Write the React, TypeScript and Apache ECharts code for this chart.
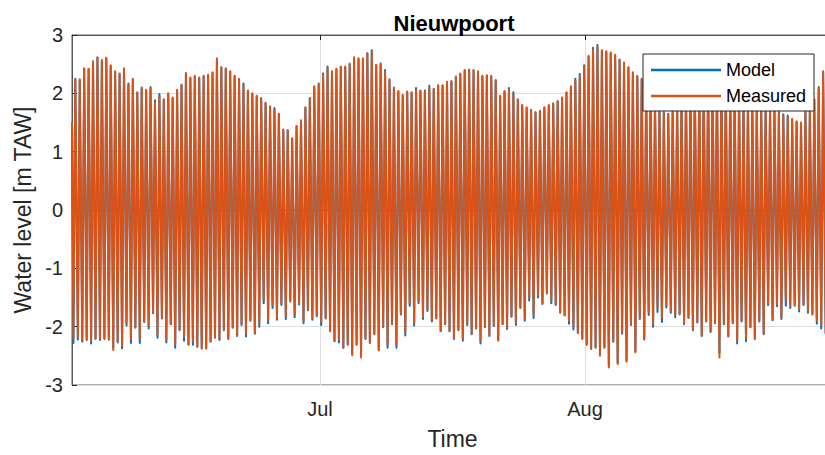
import React, { useEffect, useRef } from "react";
import * as echarts from "echarts";

const TITLE = "Nieuwpoort";
const Y_NAME = "Water level [m TAW]";
const X_NAME = "Time";
const SERIES_NAMES = ["Model", "Measured"];
const X_TICK_LABELS = ["Jul", "Aug"];
const X_TICK_DATES = [Date.UTC(2019, 6, 1), Date.UTC(2019, 7, 1)];
const X_MIN = Date.UTC(2019, 5, 2);
const X_MAX = Date.UTC(2019, 7, 30);
const FIRST_LOW = Date.UTC(2019, 5, 2, 4, 0);
const TIDE_PERIOD_MS = 12.42 * 3600 * 1000;
const RISE_MS = 5.3 * 3600 * 1000; // low water -> high water (flood is shorter than ebb)
const START_LEVEL = 1.5;

// high waters (m TAW), one per tide
const measuredHigh = [
  2.25, 2.24, 2.43, 2.42, 2.55, 2.62, 2.57, 2.61, 2.48, 2.38,
  2.34, 2.43, 2.14, 2.25, 2.02, 2.10, 2.06, 2.08, 1.84, 1.96,
  1.90, 2.00, 1.93, 2.06, 2.15, 2.35, 2.27, 2.30, 2.27, 2.30,
  2.32, 2.36, 2.60, 2.45, 2.43, 2.38, 2.30, 2.25, 2.14, 2.05,
  2.00, 1.96, 1.92, 1.84, 1.78, 1.72, 1.65, 1.38, 1.37, 1.23,
  1.44, 1.54, 1.76, 1.92, 2.12, 2.14, 2.31, 2.44, 2.38, 2.42,
  2.46, 2.46, 2.51, 2.62, 2.60, 2.60, 2.69, 2.72, 2.49, 2.49,
  2.37, 2.24, 2.10, 2.04, 1.97, 2.03, 2.02, 2.06, 2.05, 2.02,
  2.10, 2.08, 2.14, 2.14, 2.20, 2.21, 2.29, 2.34, 2.40, 2.41,
  2.40, 2.38, 2.30, 2.31, 2.30, 2.23, 1.96, 2.04, 2.06, 1.99,
  1.90, 1.80, 1.76, 1.72, 1.68, 1.70, 1.76, 1.80, 1.83, 1.87,
  1.93, 2.02, 2.12, 2.22, 2.30, 2.45, 2.62, 2.75, 2.80, 2.74,
  2.72, 2.70, 2.66, 2.58, 2.53, 2.45, 2.36, 2.30, 2.25, 2.10,
  1.98, 1.88, 1.76, 1.68, 1.62, 1.75, 1.85, 1.95, 2.02, 2.10,
  2.15, 2.20, 2.22, 2.25, 2.24, 2.26, 2.22, 2.18, 2.12, 2.05,
  1.98, 1.90, 1.85, 1.80, 1.82, 1.80, 1.78, 1.76, 1.74, 1.66,
  1.62, 1.60, 1.56, 1.52, 1.50, 1.68, 1.72, 1.90, 2.08, 2.38,
  2.45, 2.52,
];
const modelHigh = [
  2.24, 2.23, 2.42, 2.41, 2.54, 2.61, 2.56, 2.60, 2.47, 2.37,
  2.33, 2.42, 2.17, 2.24, 2.01, 2.09, 2.05, 2.11, 1.88, 1.99,
  1.89, 1.99, 1.92, 2.05, 2.14, 2.34, 2.26, 2.29, 2.26, 2.29,
  2.31, 2.35, 2.58, 2.44, 2.42, 2.37, 2.29, 2.24, 2.17, 2.04,
  1.99, 1.95, 1.91, 1.83, 1.77, 1.75, 1.64, 1.37, 1.36, 1.22,
  1.43, 1.53, 1.75, 1.91, 2.11, 2.17, 2.34, 2.46, 2.37, 2.41,
  2.45, 2.45, 2.50, 2.61, 2.59, 2.59, 2.68, 2.74, 2.48, 2.51,
  2.40, 2.23, 2.09, 2.03, 1.96, 2.02, 2.01, 2.09, 2.04, 2.05,
  2.13, 2.07, 2.13, 2.13, 2.19, 2.20, 2.28, 2.33, 2.39, 2.40,
  2.39, 2.37, 2.29, 2.30, 2.29, 2.22, 1.95, 2.03, 2.09, 2.02,
  1.89, 1.79, 1.75, 1.71, 1.67, 1.69, 1.75, 1.79, 1.82, 1.86,
  1.92, 2.01, 2.11, 2.25, 2.33, 2.48, 2.64, 2.78, 2.83, 2.73,
  2.71, 2.69, 2.65, 2.57, 2.52, 2.44, 2.35, 2.29, 2.24, 2.09,
  1.97, 1.87, 1.75, 1.67, 1.65, 1.74, 1.84, 1.94, 2.01, 2.09,
  2.14, 2.19, 2.21, 2.24, 2.23, 2.25, 2.21, 2.17, 2.11, 2.04,
  1.97, 1.89, 1.84, 1.79, 1.81, 1.79, 1.77, 1.75, 1.73, 1.68,
  1.64, 1.62, 1.55, 1.51, 1.49, 1.70, 1.71, 1.89, 2.11, 2.37,
  2.44, 2.51,
];
// low waters (m TAW), one per tide
const measuredLow = [
  -2.20, -2.18, -2.25, -2.22, -2.24, -2.20, -2.22, -2.20, -2.22, -2.40,
  -2.26, -2.32, -1.92, -2.22, -2.00, -2.22, -1.90, -1.98, -1.75, -2.14,
  -1.85, -2.22, -1.95, -2.30, -2.05, -2.18, -2.30, -2.25, -2.35, -2.38,
  -2.38, -2.25, -2.18, -2.22, -2.05, -2.20, -2.00, -2.15, -1.95, -2.12,
  -1.88, -2.10, -1.95, -1.55, -1.88, -1.62, -1.85, -1.60, -1.82, -1.55,
  -1.80, -1.60, -1.90, -1.70, -1.85, -1.80, -1.92, -1.85, -2.07, -2.24,
  -2.22, -2.36, -2.30, -2.49, -2.30, -2.53, -2.20, -2.27, -2.12, -2.41,
  -2.00, -2.32, -1.95, -2.32, -1.78, -2.10, -1.60, -1.94, -1.56, -1.83,
  -1.70, -1.90, -1.85, -2.07, -1.95, -2.07, -2.20, -2.05, -2.20, -1.93,
  -2.12, -2.02, -2.24, -2.00, -2.15, -1.98, -2.24, -1.95, -2.00, -1.82,
  -1.93, -1.67, -1.86, -1.50, -1.80, -1.46, -1.60, -1.42, -1.56, -1.62,
  -1.75, -1.80, -1.90, -2.00, -2.10, -2.20, -2.30, -2.38, -2.35, -2.50,
  -2.35, -2.70, -2.25, -2.64, -2.10, -2.60, -1.95, -2.44, -1.85, -2.20,
  -1.75, -1.95, -1.68, -1.85, -1.62, -1.73, -1.80, -1.78, -1.95, -1.84,
  -2.05, -1.92, -2.15, -1.90, -2.08, -1.93, -2.53, -1.95, -2.16, -1.93,
  -2.24, -1.90, -2.20, -2.00, -2.20, -1.90, -2.12, -1.59, -1.88, -1.62,
  -1.85, -1.56, -1.64, -1.62, -1.70, -1.62, -1.72, -1.78, -1.90, -1.98,
  -2.10, -2.15,
];
const modelLow = [
  -2.28, -2.22, -2.26, -2.23, -2.29, -2.21, -2.23, -2.21, -2.22, -2.36,
  -2.27, -2.37, -1.98, -2.28, -2.02, -2.28, -1.92, -2.03, -1.77, -2.19,
  -1.86, -2.27, -1.96, -2.36, -2.06, -2.24, -2.31, -2.31, -2.34, -2.36,
  -2.37, -2.26, -2.19, -2.23, -2.06, -2.21, -2.02, -2.16, -1.97, -2.17,
  -1.90, -2.12, -2.00, -1.60, -1.94, -1.68, -1.88, -1.63, -1.87, -1.57,
  -1.84, -1.62, -1.94, -1.72, -1.88, -1.82, -1.97, -1.86, -2.08, -2.25,
  -2.27, -2.36, -2.31, -2.47, -2.31, -2.50, -2.21, -2.28, -2.13, -2.40,
  -2.01, -2.36, -1.96, -2.36, -1.79, -2.15, -1.64, -1.98, -1.60, -1.87,
  -1.73, -1.91, -1.86, -2.08, -1.96, -2.08, -2.21, -2.06, -2.24, -1.97,
  -2.13, -2.03, -2.29, -2.01, -2.16, -1.99, -2.23, -1.96, -2.04, -1.83,
  -1.97, -1.68, -1.90, -1.55, -1.85, -1.50, -1.61, -1.43, -1.60, -1.63,
  -1.76, -1.81, -1.95, -2.05, -2.11, -2.21, -2.31, -2.38, -2.36, -2.48,
  -2.36, -2.66, -2.26, -2.62, -2.12, -2.58, -1.97, -2.42, -1.87, -2.22,
  -1.80, -2.00, -1.75, -1.92, -1.67, -1.76, -1.84, -1.79, -1.96, -1.85,
  -2.06, -1.93, -2.16, -1.91, -2.09, -1.94, -2.45, -1.96, -2.17, -1.94,
  -2.29, -1.91, -2.25, -2.01, -2.21, -1.91, -2.13, -1.63, -1.89, -1.65,
  -1.87, -1.64, -1.68, -1.64, -1.74, -1.63, -1.76, -1.79, -1.95, -2.03,
  -2.12, -2.16,
];

const BLUE = "#0072BD";
const ORANGE = "#D95319";
const FONT = "'Liberation Sans', Arial, Helvetica, sans-serif";
const AXIS_COLOR = "#262626";

function buildSeries(lows: number[], highs: number[]) {
  const pts: [number, number][] = [[X_MIN, START_LEVEL]];
  const n = Math.min(lows.length, highs.length);
  for (let i = 0; i < n; i++) {
    const t = FIRST_LOW + i * TIDE_PERIOD_MS;
    pts.push([t, lows[i]]);
    pts.push([t + RISE_MS, highs[i]]);
  }
  return pts;
}

export default function App() {
  const ref = useRef<HTMLDivElement>(null);
  useEffect(() => {
    if (!ref.current) return;
    const chart = echarts.init(ref.current, undefined, { renderer: "svg" });
    const tickFmt = (v: number) => {
      const i = X_TICK_DATES.indexOf(v);
      return i >= 0 ? X_TICK_LABELS[i] : "";
    };
    chart.setOption({
      animation: false,
      backgroundColor: "#ffffff",
      textStyle: { fontFamily: FONT },
      title: {
        text: TITLE,
        left: 449,
        top: 7,
        textAlign: "center",
        textStyle: { fontSize: 22, fontWeight: "bold", color: "#000", fontFamily: FONT },
      },
      legend: {
        data: SERIES_NAMES,
        orient: "vertical",
        left: 643,
        top: 54,
        icon: "rect",
        itemWidth: 70,
        itemHeight: 2.5,
        itemGap: 8,
        padding: [7, 8, 6, 8],
        backgroundColor: "#ffffff",
        borderColor: AXIS_COLOR,
        borderWidth: 1,
        borderRadius: 0,
        textStyle: { fontSize: 18, color: "#000", fontFamily: FONT },
      },
      grid: {
        left: 72,
        top: 35,
        width: 761,
        height: 355,
        show: true,
        borderColor: "#5a5a5a",
        borderWidth: 1,
        backgroundColor: "transparent",
      },
      xAxis: [
        {
          type: "value",
          min: X_MIN,
          max: X_MAX,
          name: X_NAME,
          nameLocation: "middle",
          nameGap: 42,
          nameTextStyle: { fontSize: 23, color: AXIS_COLOR, fontFamily: FONT },
          axisLine: { show: true, lineStyle: { color: "#5a5a5a", width: 1 } },
          axisTick: { show: true, inside: true, length: 5, customValues: X_TICK_DATES, lineStyle: { color: AXIS_COLOR } },
          axisLabel: { customValues: X_TICK_DATES, formatter: tickFmt, fontSize: 20, color: AXIS_COLOR, margin: 14, fontFamily: FONT },
          splitLine: { show: true, lineStyle: { color: "#dedede", width: 1 } },
        },
        {
          type: "value",
          position: "top",
          min: X_MIN,
          max: X_MAX,
          axisLine: { show: true, lineStyle: { color: "#5a5a5a", width: 1 } },
          axisTick: { show: true, inside: true, length: 5, customValues: X_TICK_DATES, lineStyle: { color: AXIS_COLOR } },
          axisLabel: { show: false },
          splitLine: { show: false },
        },
      ],
      yAxis: {
        type: "value",
        min: -3,
        max: 3,
        interval: 1,
        name: Y_NAME,
        nameLocation: "middle",
        nameGap: 35,
        nameRotate: 90,
        nameTextStyle: { fontSize: 23, color: AXIS_COLOR, fontFamily: FONT },
        axisLine: { show: true, lineStyle: { color: "#5a5a5a", width: 1 } },
        axisTick: { show: true, inside: true, length: 5, lineStyle: { color: AXIS_COLOR } },
        axisLabel: { fontSize: 20, color: AXIS_COLOR, margin: 9, fontFamily: FONT },
        splitLine: { show: true, lineStyle: { color: "#dedede", width: 1 } },
      },
      series: [
        {
          type: "line",
          name: SERIES_NAMES[0],
          data: buildSeries(modelLow, modelHigh),
          xAxisIndex: 0,
          showSymbol: false,
          symbol: "none",
          lineStyle: { width: 2.0, color: BLUE, join: "round" },
          itemStyle: { color: BLUE },
          z: 2,
        },
        {
          type: "line",
          name: SERIES_NAMES[1],
          data: buildSeries(measuredLow, measuredHigh),
          xAxisIndex: 0,
          showSymbol: false,
          symbol: "none",
          lineStyle: { width: 2.0, color: ORANGE, join: "round" },
          itemStyle: { color: ORANGE },
          z: 3,
        },
      ],
    });
    return () => chart.dispose();
  }, []);
  return (
    <div style={{ position: "fixed", left: 0, top: 0, width: 825, height: 455, overflow: "hidden", background: "#fff" }}>
      <div ref={ref} style={{ width: 900, height: 455 }} />
    </div>
  );
}
